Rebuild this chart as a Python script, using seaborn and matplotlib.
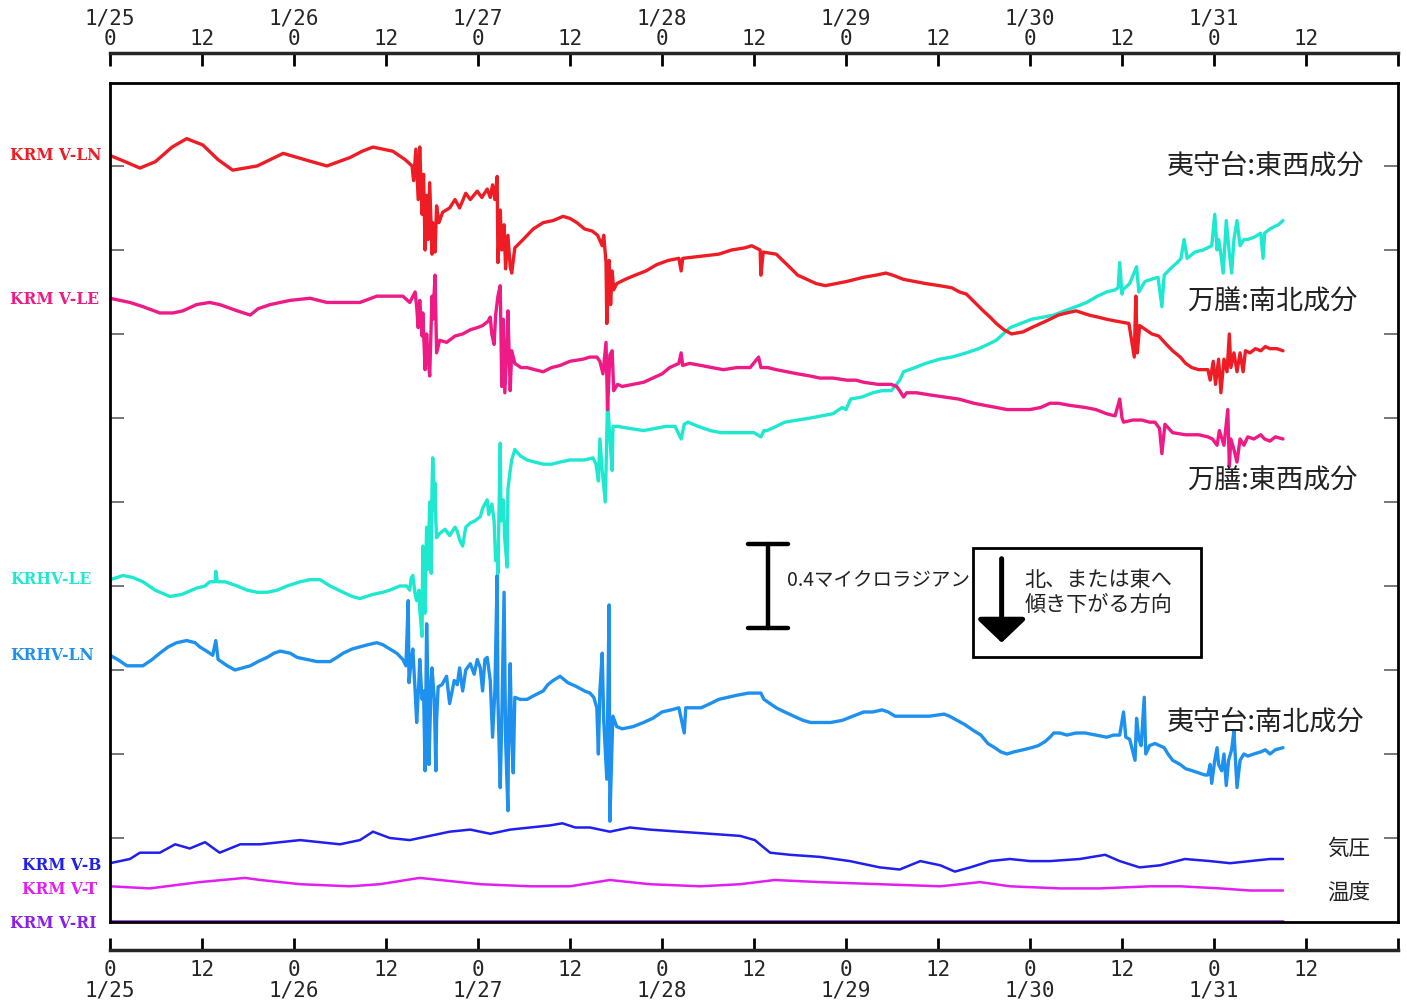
import matplotlib
matplotlib.use('Agg')
import matplotlib.pyplot as plt
from matplotlib.patches import Rectangle
import seaborn as sns
import pandas as pd
import numpy as np

sns.set_style('white')
plt.rcParams['font.family'] = ['Noto Sans CJK JP', 'DejaVu Sans']

# (hours since 1/25 00:00, tilt in microradian incl. display offset)
krm_ln = [(0.0, 3.65), (2.0, 3.62), (3.9, 3.59), (5.9, 3.62), (8.1, 3.69), (10.0, 3.73), (12.1, 3.70),
          (14.1, 3.63), (16.0, 3.58), (19.2, 3.60), (20.9, 3.63), (22.6, 3.66), (25.4, 3.63), (28.3, 3.60),
          (31.3, 3.64), (32.9, 3.67), (34.3, 3.69), (36.9, 3.67), (38.5, 3.63), (39.4, 3.60),
          (39.6, 3.53), (39.9, 3.68), (40.2, 3.44), (40.4, 3.69), (40.7, 3.37), (40.9, 3.56), (41.1, 3.20),
          (41.3, 3.46), (41.5, 3.25), (41.7, 3.52), (42.0, 3.18), (42.1, 3.33), (42.4, 3.19), (42.6, 3.41),
          (42.9, 3.33), (43.4, 3.38), (44.3, 3.40), (45.0, 3.44), (45.6, 3.40), (46.4, 3.47), (47.0, 3.44),
          (47.9, 3.48), (48.5, 3.45), (49.2, 3.49), (49.6, 3.45), (49.9, 3.51), (50.2, 3.44), (50.5, 3.55),
          (50.6, 3.14), (50.9, 3.39), (51.1, 3.20), (51.4, 3.32), (51.6, 3.11), (51.9, 3.27), (52.2, 3.12),
          (52.4, 3.09), (52.8, 3.21), (53.9, 3.25), (55.2, 3.30), (56.5, 3.33), (57.8, 3.34), (59.1, 3.36),
          (60.0, 3.35), (60.9, 3.33), (61.9, 3.30), (62.9, 3.29), (63.6, 3.27), (64.2, 3.22), (64.4, 3.27),
          (64.7, 3.14), (64.8, 2.85), (65.1, 3.15), (65.3, 2.94), (65.5, 3.10), (65.7, 3.01), (66.1, 3.04),
          (67.2, 3.06), (68.5, 3.08), (69.9, 3.10), (71.3, 3.13), (72.8, 3.15), (74.2, 3.16), (74.5, 3.10),
          (74.7, 3.16), (77.1, 3.17), (79.4, 3.18), (81.1, 3.20), (82.8, 3.21), (83.7, 3.22), (84.8, 3.20),
          (84.9, 3.08), (85.2, 3.19), (86.9, 3.18), (88.6, 3.12), (89.7, 3.08), (90.9, 3.06), (92.1, 3.04),
          (93.3, 3.03), (96.1, 3.05), (98.3, 3.07), (99.9, 3.08), (101.2, 3.09), (102.1, 3.08), (103.5, 3.06),
          (106.4, 3.04), (108.2, 3.03), (109.8, 3.02), (110.8, 3.00), (111.7, 2.99), (112.8, 2.95), (113.9, 2.91),
          (114.8, 2.88), (115.6, 2.85), (116.6, 2.82), (117.6, 2.80), (119.1, 2.81), (120.2, 2.83), (121.4, 2.85),
          (122.6, 2.87), (123.7, 2.89), (124.8, 2.90), (126.0, 2.91), (127.7, 2.89), (128.9, 2.88), (130.0, 2.87),
          (131.4, 2.86), (132.9, 2.85), (133.6, 2.69), (133.8, 2.98), (134.0, 2.71), (134.3, 2.84), (135.1, 2.82),
          (135.9, 2.80), (136.8, 2.79), (137.8, 2.75), (138.6, 2.72), (139.6, 2.69), (140.3, 2.66), (141.1, 2.64),
          (142.0, 2.63), (142.8, 2.63), (143.2, 2.63), (143.5, 2.58), (143.9, 2.67), (144.2, 2.56), (144.6, 2.68),
          (144.9, 2.52), (145.3, 2.68), (145.7, 2.62), (146.0, 2.80), (146.2, 2.64), (146.6, 2.71), (147.0, 2.62),
          (147.4, 2.71), (147.8, 2.62), (148.1, 2.72), (148.7, 2.71), (149.4, 2.73), (150.1, 2.72), (150.7, 2.74),
          (151.3, 2.73), (152.2, 2.73), (153.0, 2.72)]

krm_le = [(0.0, 2.97), (2.6, 2.95), (4.3, 2.93), (6.5, 2.90), (8.2, 2.90), (9.5, 2.91), (11.3, 2.94),
          (13.0, 2.95), (14.3, 2.94), (16.6, 2.91), (18.3, 2.89), (19.3, 2.92), (20.9, 2.94), (23.5, 2.96),
          (26.1, 2.97), (28.3, 2.95), (30.4, 2.95), (32.6, 2.95), (34.8, 2.98), (36.9, 2.98), (38.2, 2.98),
          (39.1, 2.95), (39.8, 3.00), (40.0, 2.93), (40.2, 2.83), (40.4, 2.96), (40.7, 2.79), (40.8, 2.90),
          (41.1, 2.63), (41.3, 2.80), (41.5, 2.68), (41.7, 2.60), (42.0, 2.98), (42.1, 2.87), (42.4, 3.08),
          (42.6, 2.71), (43.0, 2.77), (43.9, 2.76), (45.0, 2.79), (46.0, 2.80), (47.0, 2.82), (47.9, 2.83),
          (48.6, 2.84), (49.3, 2.86), (49.6, 2.88), (49.8, 2.80), (50.1, 2.75), (50.3, 2.89), (50.6, 2.98),
          (50.9, 3.03), (51.1, 2.55), (51.3, 2.87), (51.5, 2.52), (51.8, 2.77), (51.9, 2.91), (52.2, 2.53),
          (52.4, 2.72), (52.8, 2.66), (53.6, 2.64), (54.4, 2.64), (55.4, 2.63), (56.5, 2.62), (57.6, 2.64),
          (58.7, 2.65), (60.0, 2.67), (61.7, 2.68), (62.6, 2.69), (63.5, 2.69), (63.9, 2.67), (64.3, 2.61),
          (64.7, 2.76), (64.9, 2.44), (65.2, 2.70), (65.5, 2.72), (65.7, 2.53), (66.2, 2.56), (66.8, 2.55),
          (68.2, 2.56), (69.6, 2.57), (70.8, 2.59), (72.0, 2.61), (73.0, 2.64), (74.2, 2.66), (74.5, 2.71),
          (74.7, 2.65), (75.6, 2.66), (77.1, 2.65), (78.5, 2.64), (80.0, 2.63), (81.8, 2.64), (83.5, 2.64),
          (84.6, 2.69), (84.9, 2.64), (85.8, 2.64), (86.9, 2.63), (88.3, 2.62), (89.7, 2.61), (91.3, 2.60),
          (92.6, 2.59), (94.3, 2.59), (96.1, 2.58), (97.3, 2.58), (98.3, 2.57), (100.2, 2.56), (101.9, 2.56),
          (102.6, 2.55), (103.0, 2.53), (103.5, 2.50), (103.9, 2.52), (105.2, 2.52), (106.9, 2.51), (108.8, 2.50),
          (110.7, 2.49), (112.7, 2.47), (114.1, 2.46), (115.6, 2.45), (117.0, 2.44), (118.4, 2.44), (120.0, 2.44),
          (121.4, 2.45), (122.6, 2.47), (123.7, 2.47), (125.2, 2.46), (127.2, 2.45), (128.6, 2.44), (130.0, 2.42),
          (131.1, 2.41), (131.7, 2.49), (132.0, 2.40), (132.2, 2.38), (133.4, 2.39), (134.6, 2.39), (135.6, 2.38),
          (136.3, 2.38), (136.9, 2.35), (137.2, 2.23), (137.6, 2.37), (138.6, 2.33), (140.3, 2.32), (142.0, 2.32),
          (143.2, 2.31), (143.8, 2.30), (144.4, 2.27), (144.7, 2.34), (145.3, 2.27), (145.8, 2.44), (146.0, 2.17),
          (146.2, 2.30), (146.6, 2.25), (147.0, 2.19), (147.4, 2.30), (147.9, 2.27), (148.4, 2.31), (149.2, 2.30),
          (150.1, 2.32), (150.6, 2.30), (151.3, 2.29), (152.0, 2.31), (153.0, 2.30)]

krhv_le = [(0.0, 1.63), (0.9, 1.64), (1.7, 1.65), (3.0, 1.64), (4.3, 1.62), (5.9, 1.58), (7.8, 1.55),
           (9.4, 1.56), (11.3, 1.59), (12.4, 1.60), (13.0, 1.62), (13.7, 1.62), (13.8, 1.67), (14.0, 1.62),
           (15.0, 1.62), (16.6, 1.60), (17.9, 1.58), (19.2, 1.57), (20.5, 1.57), (21.8, 1.58), (23.1, 1.60),
           (24.8, 1.62), (26.1, 1.63), (27.4, 1.63), (28.7, 1.60), (30.4, 1.57), (31.6, 1.55), (32.6, 1.54),
           (34.3, 1.56), (35.6, 1.57), (36.5, 1.58), (37.8, 1.60), (38.7, 1.60), (39.1, 1.58), (39.3, 1.64),
           (39.5, 1.65), (39.8, 1.56), (40.0, 1.53), (40.3, 1.58), (40.4, 1.49), (40.7, 1.36), (40.8, 1.79),
           (40.9, 1.53), (41.1, 1.47), (41.2, 1.72), (41.3, 1.88), (41.5, 1.68), (41.7, 2.00), (41.9, 1.66),
           (42.0, 2.06), (42.1, 2.21), (42.3, 1.96), (42.4, 2.09), (42.5, 1.91), (42.6, 1.83), (43.0, 1.85),
           (43.7, 1.87), (44.3, 1.84), (45.0, 1.88), (45.3, 1.86), (45.6, 1.82), (46.0, 1.79), (46.4, 1.88),
           (47.0, 1.90), (47.6, 1.91), (48.3, 1.93), (48.6, 1.97), (49.2, 2.01), (49.4, 1.94), (49.8, 1.99),
           (50.1, 1.91), (50.3, 1.72), (50.5, 1.77), (50.6, 1.66), (50.9, 2.28), (51.0, 1.91), (51.3, 2.01),
           (51.5, 1.82), (51.8, 1.69), (51.9, 2.06), (52.2, 2.15), (52.4, 2.20), (52.8, 2.25), (53.5, 2.22),
           (54.4, 2.20), (55.4, 2.19), (56.5, 2.18), (57.6, 2.18), (58.7, 2.19), (60.0, 2.20), (60.9, 2.20),
           (61.9, 2.20), (63.0, 2.21), (63.4, 2.18), (63.7, 2.10), (63.9, 2.30), (64.2, 2.15), (64.6, 2.00),
           (64.7, 2.15), (64.9, 2.49), (65.2, 2.30), (65.5, 2.15), (65.6, 2.36), (66.2, 2.36), (67.8, 2.35),
           (69.6, 2.34), (71.1, 2.35), (72.5, 2.36), (73.7, 2.36), (74.5, 2.30), (74.9, 2.37), (75.4, 2.38),
           (76.7, 2.36), (78.3, 2.34), (79.7, 2.33), (81.1, 2.33), (82.5, 2.33), (84.0, 2.33), (84.9, 2.31),
           (85.3, 2.34), (85.7, 2.34), (86.9, 2.36), (88.0, 2.38), (89.7, 2.39), (91.4, 2.40), (92.8, 2.41),
           (94.3, 2.42), (95.5, 2.45), (96.0, 2.44), (96.6, 2.49), (98.1, 2.50), (99.5, 2.52), (100.7, 2.53),
           (101.9, 2.53), (102.6, 2.56), (103.0, 2.58), (103.5, 2.62), (105.0, 2.64), (106.4, 2.66), (108.2, 2.68),
           (109.8, 2.69), (111.7, 2.71), (113.3, 2.73), (114.5, 2.75), (115.6, 2.77), (116.5, 2.80), (117.4, 2.83),
           (118.8, 2.85), (120.2, 2.87), (121.7, 2.88), (123.1, 2.89), (124.5, 2.91), (126.0, 2.93), (127.4, 2.95),
           (128.8, 2.98), (130.0, 3.00), (131.1, 3.01), (131.5, 3.02), (131.7, 3.14), (132.0, 2.99), (132.1, 3.01),
           (133.0, 3.04), (133.9, 3.12), (134.2, 3.00), (135.0, 3.05), (135.8, 3.06), (136.7, 3.07), (137.2, 2.93),
           (137.5, 3.08), (138.3, 3.11), (139.2, 3.14), (139.7, 3.16), (140.1, 3.25), (140.5, 3.16), (141.5, 3.19),
           (142.6, 3.20), (143.7, 3.22), (144.1, 3.37), (144.4, 3.20), (144.6, 3.25), (144.9, 3.18), (145.2, 3.09),
           (145.6, 3.34), (145.9, 3.22), (146.3, 3.09), (146.6, 3.25), (147.0, 3.34), (147.4, 3.22), (147.9, 3.25),
           (148.4, 3.25), (149.2, 3.26), (150.1, 3.28), (150.4, 3.16), (150.6, 3.28), (151.3, 3.30), (151.8, 3.31),
           (152.4, 3.32), (153.0, 3.34)]

krhv_ln = [(0.0, 1.27), (1.0, 1.25), (2.2, 1.22), (3.3, 1.22), (4.3, 1.22), (5.5, 1.25), (6.5, 1.28),
           (7.6, 1.31), (8.7, 1.33), (10.0, 1.34), (11.1, 1.33), (11.7, 1.31), (12.6, 1.29), (13.4, 1.27),
           (13.8, 1.34), (14.1, 1.25), (15.3, 1.22), (16.3, 1.20), (17.3, 1.21), (18.3, 1.22), (19.3, 1.24),
           (20.5, 1.26), (21.4, 1.28), (22.2, 1.29), (23.5, 1.28), (24.4, 1.26), (25.7, 1.25), (27.0, 1.24),
           (28.7, 1.24), (29.6, 1.26), (30.4, 1.28), (31.6, 1.30), (32.6, 1.31), (33.6, 1.32), (34.8, 1.33),
           (35.6, 1.32), (36.5, 1.30), (37.4, 1.28), (38.2, 1.25), (38.6, 1.22), (38.9, 1.53), (39.0, 1.14),
           (39.3, 1.25), (39.5, 1.30), (39.8, 1.10), (40.0, 0.95), (40.3, 1.15), (40.4, 1.25), (40.7, 1.06),
           (40.9, 1.10), (41.1, 0.72), (41.3, 1.42), (41.5, 1.06), (41.6, 0.75), (41.9, 1.15), (42.0, 1.21),
           (42.3, 1.06), (42.5, 0.72), (42.6, 0.96), (42.8, 1.12), (43.3, 1.13), (43.9, 1.17), (44.3, 1.04),
           (44.9, 1.15), (45.3, 1.13), (45.6, 1.21), (46.0, 1.10), (46.4, 1.20), (47.0, 1.23), (47.5, 1.18),
           (47.9, 1.25), (48.3, 1.21), (48.6, 1.10), (48.9, 1.25), (49.2, 1.26), (49.6, 1.15), (49.9, 0.88),
           (50.2, 1.10), (50.5, 1.65), (50.6, 1.06), (50.9, 0.64), (51.1, 0.96), (51.4, 1.57), (51.6, 0.87),
           (51.9, 0.53), (52.0, 0.96), (52.2, 1.23), (52.4, 0.87), (52.6, 0.71), (52.8, 1.07), (53.5, 1.06),
           (54.4, 1.06), (55.4, 1.08), (56.5, 1.10), (57.1, 1.13), (57.8, 1.15), (58.7, 1.17), (59.7, 1.14),
           (60.9, 1.12), (61.9, 1.10), (62.6, 1.09), (63.1, 1.07), (63.5, 1.02), (63.7, 0.80), (63.9, 1.10),
           (64.2, 1.28), (64.4, 0.96), (64.8, 0.68), (65.1, 1.51), (65.2, 0.48), (65.5, 0.87), (65.6, 0.98),
           (66.1, 0.93), (66.8, 0.92), (68.2, 0.93), (69.6, 0.95), (70.8, 0.97), (72.0, 1.00), (73.2, 1.01),
           (74.2, 1.02), (74.9, 0.90), (75.1, 1.02), (76.0, 1.02), (77.1, 1.02), (78.3, 1.04), (79.4, 1.06),
           (80.6, 1.07), (81.8, 1.08), (83.3, 1.09), (84.9, 1.09), (85.3, 1.06), (85.7, 1.05), (86.9, 1.02),
           (88.0, 1.00), (89.2, 0.98), (90.4, 0.96), (91.4, 0.95), (92.6, 0.95), (94.0, 0.95), (95.5, 0.96),
           (96.9, 0.98), (98.3, 1.00), (99.5, 1.00), (100.7, 1.01), (101.5, 1.00), (102.4, 0.98), (103.8, 0.98),
           (105.2, 0.98), (106.9, 0.98), (108.8, 0.99), (109.5, 0.98), (110.5, 0.96), (111.5, 0.94), (112.7, 0.91),
           (113.6, 0.89), (114.5, 0.85), (115.4, 0.83), (116.2, 0.81), (117.0, 0.80), (117.9, 0.81), (119.1, 0.82),
           (120.2, 0.83), (121.1, 0.84), (122.0, 0.86), (122.6, 0.88), (123.1, 0.90), (123.9, 0.90), (124.8, 0.89),
           (126.0, 0.90), (127.2, 0.90), (128.6, 0.89), (130.0, 0.88), (130.9, 0.89), (131.7, 0.89), (132.2, 1.00),
           (132.5, 0.88), (133.0, 0.87), (133.7, 0.77), (133.9, 0.97), (134.2, 0.87), (134.5, 0.84), (134.9, 1.07),
           (135.1, 0.80), (135.6, 0.84), (136.3, 0.85), (136.9, 0.84), (137.5, 0.83), (138.0, 0.80), (138.6, 0.77),
           (139.6, 0.75), (140.3, 0.73), (141.2, 0.72), (142.0, 0.71), (142.8, 0.70), (143.2, 0.70), (143.5, 0.75),
           (143.7, 0.66), (144.1, 0.77), (144.4, 0.83), (144.6, 0.75), (145.0, 0.72), (145.3, 0.80), (145.6, 0.65),
           (145.9, 0.77), (146.3, 0.82), (146.6, 0.91), (146.8, 0.77), (147.0, 0.64), (147.4, 0.77), (147.9, 0.80),
           (148.4, 0.79), (149.2, 0.80), (150.1, 0.81), (150.7, 0.82), (151.3, 0.80), (152.0, 0.82), (153.0, 0.83)]

krm_b = [(0.0, 0.28), (2.6, 0.30), (3.9, 0.33), (6.5, 0.33), (8.5, 0.37), (10.4, 0.35), (12.4, 0.38),
         (14.3, 0.33), (17.0, 0.37), (19.6, 0.37), (22.2, 0.38), (24.8, 0.39), (27.4, 0.38), (30.0, 0.37),
         (32.6, 0.39), (34.3, 0.43), (36.5, 0.40), (39.1, 0.39), (41.7, 0.41), (44.3, 0.43), (47.0, 0.44),
         (49.6, 0.42), (52.2, 0.44), (54.8, 0.45), (57.4, 0.46), (59.0, 0.47), (60.7, 0.45), (62.6, 0.45),
         (65.2, 0.43), (67.8, 0.45), (70.4, 0.44), (74.3, 0.43), (78.3, 0.42), (82.2, 0.41), (84.1, 0.39),
         (86.1, 0.33), (88.7, 0.32), (92.6, 0.31), (96.5, 0.29), (100.4, 0.26), (103.0, 0.25), (105.7, 0.29),
         (108.3, 0.27), (110.2, 0.24), (112.2, 0.26), (114.8, 0.29), (117.4, 0.30), (120.0, 0.29), (122.6, 0.29),
         (126.5, 0.30), (129.8, 0.32), (131.7, 0.29), (134.3, 0.26), (137.0, 0.27), (140.2, 0.30), (143.5, 0.29),
         (146.1, 0.28), (148.7, 0.29), (151.3, 0.30), (153.0, 0.30)]

krm_t = [(0.0, 0.17), (5.2, 0.16), (11.7, 0.19), (17.6, 0.21), (19.6, 0.20), (24.8, 0.18), (31.3, 0.17),
         (35.2, 0.18), (40.4, 0.21), (43.0, 0.20), (48.3, 0.18), (54.8, 0.17), (60.0, 0.17), (65.2, 0.20),
         (70.4, 0.18), (77.0, 0.17), (82.2, 0.18), (86.7, 0.20), (92.6, 0.19), (100.4, 0.18), (108.3, 0.17),
         (113.5, 0.19), (117.4, 0.17), (123.9, 0.16), (129.1, 0.16), (135.7, 0.17), (139.6, 0.17), (144.8, 0.16),
         (148.7, 0.15), (153.0, 0.15)]

krm_ri = [(0.0, 0.005), (153.0, 0.005)]

channel_names = ['KRM V-LN', 'KRM V-LE', 'KRHV-LE', 'KRHV-LN', 'KRM V-B', 'KRM V-T', 'KRM V-RI']
channel_colors = ['#ee1c25', '#ee1a85', '#1ee8d0', '#1e90ee', '#1f1fee', '#e21ff0', '#8a1fe6']
day_labels = ['1/25', '1/26', '1/27', '1/28', '1/29', '1/30', '1/31']
scale_bar = 0.4  # microradian

W, H = 1407, 1006
fig = plt.figure(figsize=(W / 100, H / 100), dpi=100)
fig.patch.set_facecolor('white')

ax = fig.add_axes([110 / W, 1 - 922 / H, 1288 / W, 839 / H])
ax.set_xlim(0, 168)
ax.set_ylim(0, 3.995)

series = [
    (krm_ri, channel_colors[6], 1.8),
    (krm_t, channel_colors[5], 1.8),
    (krm_b, channel_colors[4], 1.8),
    (krhv_ln, channel_colors[3], 2.4),
    (krhv_le, channel_colors[2], 2.4),
    (krm_le, channel_colors[1], 2.4),
    (krm_ln, channel_colors[0], 2.4),
]
for data, c, lw in series:
    t, v = zip(*data)
    df = pd.DataFrame({'t': t, 'v': v})
    sns.lineplot(data=df, x='t', y='v', ax=ax, color=c, lw=lw, sort=False,
                 estimator=None, clip_on=(data is not krm_ri))

ax.set_xlabel('')
ax.set_ylabel('')
ax.set_xticks([])
ax.set_yticks(np.arange(0.4, 3.61, 0.4))
ax.tick_params(axis='y', which='both', direction='in', length=10, width=1.4,
               color='#777777', left=True, right=True, labelleft=False, labelright=False)
for s in ax.spines.values():
    s.set_linewidth(2.0)
    s.set_color('black')

# right-side labels
jp = dict(color='#222222', va='center', ha='left')
ax.text(137.9, 3.60, '夷守台:東西成分', fontsize=19.5, **jp)
ax.text(140.5, 2.95, '万膳:南北成分', fontsize=19.5, **jp)
ax.text(140.5, 2.10, '万膳:東西成分', fontsize=19.5, **jp)
ax.text(137.9, 0.95, '夷守台:南北成分', fontsize=19.5, **jp)
ax.text(158.7, 0.35, '気圧', fontsize=15.5, **jp)
ax.text(158.7, 0.14, '温度', fontsize=15.5, **jp)

# scale bar
bx = 85.8
y0 = 1.40
ax.plot([bx, bx], [y0, y0 + scale_bar], color='black', lw=3.2, solid_capstyle='round')
ax.plot([bx - 2.6, bx + 2.6], [y0, y0], color='black', lw=3.2, solid_capstyle='round')
ax.plot([bx - 2.6, bx + 2.6], [y0 + scale_bar, y0 + scale_bar], color='black', lw=3.2, solid_capstyle='round')
ax.text(88.3, 1.625, f'{scale_bar}マイクロラジアン', fontsize=14, color='#222222', va='center', ha='left')

# direction box
ax.add_patch(Rectangle((112.6, 1.262), 29.7, 0.519, fill=False, lw=2.0, edgecolor='black', zorder=5))
ax.annotate('', xy=(116.3, 1.33), xytext=(116.3, 1.73),
            arrowprops=dict(arrowstyle='-|>,head_length=0.4,head_width=0.42', lw=3.6,
                            color='black', mutation_scale=36, shrinkA=0, shrinkB=0))
ax.text(119.3, 1.63, '北、または東へ', fontsize=15.2, color='#222222', va='center', ha='left')
ax.text(119.3, 1.51, '傾き下がる方向', fontsize=15.2, color='#222222', va='center', ha='left')

# channel labels at left
lab_pos = [(10, 155), (10, 300), (10, 580), (10, 656), (22, 865), (22, 889), (10, 924)]
for name, c, (px, py) in zip(channel_names, channel_colors, lab_pos):
    fig.text(px / W, 1 - py / H, name, color=c, fontsize=11.2, fontweight='bold',
             family='DejaVu Serif', va='center', ha='left')

# time axes
ticks = list(range(0, 169, 12))
top_labels, bot_labels = [], []
for h in ticks:
    if h == 168:
        top_labels.append('')
        bot_labels.append('')
    elif h % 24 == 0:
        d = day_labels[h // 24]
        top_labels.append(f'{d}\n0')
        bot_labels.append(f'0\n{d}')
    else:
        top_labels.append('12')
        bot_labels.append('12')

axt = fig.add_axes([110 / W, 1 - 65 / H, 1288 / W, 12 / H])
axb = fig.add_axes([110 / W, 1 - 950 / H, 1288 / W, 12 / H])
for a, side, labels, pad in [(axt, 'top', top_labels, 3), (axb, 'bottom', bot_labels, 7)]:
    a.set_xlim(0, 168)
    a.set_ylim(0, 1)
    a.patch.set_alpha(0)
    for k in ['left', 'right', 'top', 'bottom']:
        a.spines[k].set_visible(k == side)
    a.spines[side].set_linewidth(2.5)
    a.set_yticks([])
    a.xaxis.set_ticks_position(side)
    a.set_xticks(ticks)
    a.set_xticklabels(labels, family='DejaVu Sans Mono', fontsize=15, linespacing=1.05)
    a.tick_params(axis='x', direction='in', length=9, width=2, pad=pad, color='black')

fig.savefig('out.png', dpi=100, facecolor='white')
